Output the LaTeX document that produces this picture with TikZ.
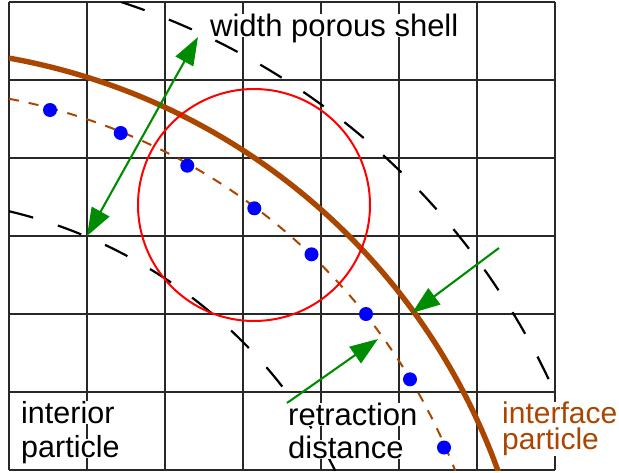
\documentclass[tikz,border=0pt]{standalone}
\usepackage{fontspec}
\setmainfont{Liberation Sans}
\usetikzlibrary{arrows.meta}
\definecolor{brn}{RGB}{170,70,0}
\definecolor{grn}{RGB}{0,140,0}
\definecolor{gridc}{RGB}{40,40,40}
\begin{document}
\begin{tikzpicture}[x=1pt,y=-1pt,
  gridline/.style={draw=gridc, line width=1.3pt},
  blackdash/.style={draw=black, line width=2.2pt, dash pattern=on 25pt off 26pt},
  brndash/.style={draw=brn, line width=2pt, dash pattern=on 10pt off 10pt},
  brnthick/.style={draw=brn, line width=5.4pt},
  dot/.style={circle, fill=blue, inner sep=0pt, minimum size=14pt},
  grnarrow/.style={draw=grn, line width=2.1pt, -{Triangle[length=28pt,width=20pt]}},
  grnboth/.style={draw=grn, line width=2.1pt, {Triangle[length=28pt,width=20pt]}-{Triangle[length=28pt,width=20pt]}},
  lbl/.style={fill=white, inner sep=0pt, anchor=base west, text depth=1pt}]
\useasboundingbox (0,0) rectangle (619,472);
\coordinate (C) at (-104,688);
% grid
\foreach \i in {0,...,7} \draw[gridline] (9+78*\i,2) -- (9+78*\i,470);
\foreach \j in {0,...,6} \draw[gridline] (9,2+78*\j) -- (555,2+78*\j);
% arcs
\begin{scope}
\clip (9,2) rectangle (555,470);
\draw[blackdash] ([shift={(-71.84:722)}]C) arc[start angle=-71.84, end angle=-24.0, radius=722];
\draw[blackdash] ([shift={(-76.67:490)}]C) arc[start angle=-76.67, end angle=-26.3, radius=490];
\draw[brndash] ([shift={(-79.14:600)}]C) arc[start angle=-79.14, end angle=-21.2, radius=600];
\draw[brnthick] ([shift={(-80.5:640)}]C) arc[start angle=-80.5, end angle=-19.5, radius=640];
\end{scope}
% red circle
\node[draw=red, line width=2pt, circle, inner sep=0pt, minimum size=232pt] (rc) at (254,205) {};
% particles
\node[dot] (p1) at (50,110) {};
\node[dot] (p2) at (120.7,133) {};
\node[dot] (p3) at (187.3,165.7) {};
\node[dot] (p4) at (254.3,208.3) {};
\node[dot] (p5) at (311.5,254.3) {};
\node[dot] (p6) at (366,314) {};
\node[dot] (p7) at (410,379.3) {};
\node[dot] (p8) at (444,447.5) {};
% arrows
\coordinate (a1s) at (87,236);
\coordinate (a1e) at (198,37);
\coordinate (a2s) at (499,248);
\coordinate (a2e) at (412,313);
\coordinate (a3s) at (287,403);
\coordinate (a3e) at (378,339);
\draw[grnboth] (a1s) -- (a1e);
\draw[grnarrow] (a2s) -- (a2e);
\draw[grnarrow] (a3s) -- (a3e);
% labels
\node[lbl, font=\fontsize{31}{31}\selectfont] (wps) at (210,36) {width porous shell};
\node[lbl, font=\fontsize{30.5}{30}\selectfont] (int1) at (21,423) {interior};
\node[lbl, font=\fontsize{30.5}{30}\selectfont, text height=18pt] (int2) at (21,457) {particle};
\node[lbl, font=\fontsize{31}{31}\selectfont] (ret1) at (288,425) {retraction};
\node[lbl, font=\fontsize{31}{31}\selectfont, text height=18pt] (ret2) at (288,458) {distance};
\node[fill=white, inner sep=0pt, anchor=north west, align=left,
      font=\fontsize{30}{26}\selectfont, text=brn] (ifp) at (502,402) {interface\\particle};
\end{tikzpicture}
\end{document}
